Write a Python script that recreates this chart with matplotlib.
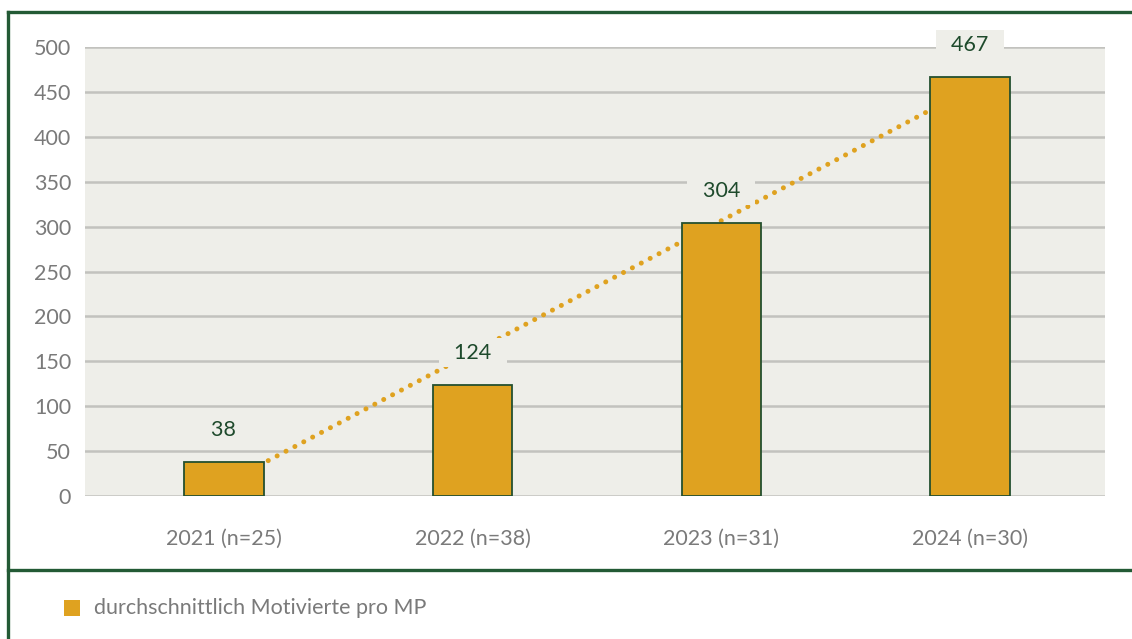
import matplotlib
matplotlib.use("Agg")
import matplotlib.pyplot as plt
from matplotlib.lines import Line2D
from matplotlib.patches import Rectangle
import numpy as np

categories = ["2021 (n=25)", "2022 (n=38)", "2023 (n=31)", "2024 (n=30)"]
values = [38, 124, 304, 467]
legend_label = "durchschnittlich Motivierte pro MP"
yticks = [0, 50, 100, 150, 200, 250, 300, 350, 400, 450, 500]

BAR = "#DFA220"
EDGE = "#24502F"
BG = "#EEEEE9"
GRID = "#C2C2BE"
TICK = "#7A7A7A"
LABEL = "#1E4A2C"
FRAME = "#235A35"

plt.rcParams['font.family'] = ['Lato', 'DejaVu Sans']

fig = plt.figure(figsize=(11.32, 6.39), dpi=100)
ax = fig.add_axes([85/1132, 1-496/639, (1105-85)/1132, (496-47)/639])
ax.set_facecolor(BG)

x = np.arange(len(categories))
ax.bar(x, values, width=0.32, color=BAR, edgecolor=EDGE, linewidth=1.3, zorder=3)

# linear trendline
coef = np.polyfit(x, values, 1)
tx = np.array([x[0], x[-1]])
ax.plot(tx, np.polyval(coef, tx), color=BAR, linewidth=3.6,
        linestyle=(0, (0.01, 2.0)), dash_capstyle='round', solid_capstyle='round', zorder=2)

for xi, v in zip(x, values):
    ax.annotate(f"  {v}  ", (xi, v), xytext=(0, 23), textcoords='offset points',
                ha='center', va='center', fontsize=15.5, color=LABEL, zorder=5,
                bbox=dict(boxstyle='square,pad=0.2', facecolor=BG, edgecolor='none'),
                annotation_clip=False)

ax.set_ylim(0, 500)
ax.set_xlim(-0.558, 3.542)
ax.set_yticks(yticks)
ax.set_xticks(x)
ax.set_xticklabels(categories)
ax.tick_params(axis='both', length=0, labelsize=15.5, labelcolor=TICK)
ax.tick_params(axis='y', pad=10)
ax.tick_params(axis='x', pad=24)
ax.yaxis.grid(True, color=GRID, linewidth=1.8, zorder=0)
ax.set_axisbelow(True)
for s in ax.spines.values():
    s.set_visible(False)

# frame lines
W, H = 1132, 639
fig.add_artist(Line2D([8/W, 8/W], [0, 1-12/H], color=FRAME, linewidth=2.4, transform=fig.transFigure))
fig.add_artist(Line2D([8/W, 1], [1-12/H, 1-12/H], color=FRAME, linewidth=2.4, transform=fig.transFigure))
fig.add_artist(Line2D([8/W, 1], [1-570/H, 1-570/H], color=FRAME, linewidth=2.4, transform=fig.transFigure))

# legend
fig.add_artist(Rectangle((64/W, 1-616/H), 16/W, 16/H, facecolor=BAR, edgecolor='none', transform=fig.transFigure))
fig.text(94/W, 1-608/H, legend_label, fontsize=15.5, color=TICK, va='center', ha='left')

fig.savefig("out.png", dpi=100, facecolor='white')
